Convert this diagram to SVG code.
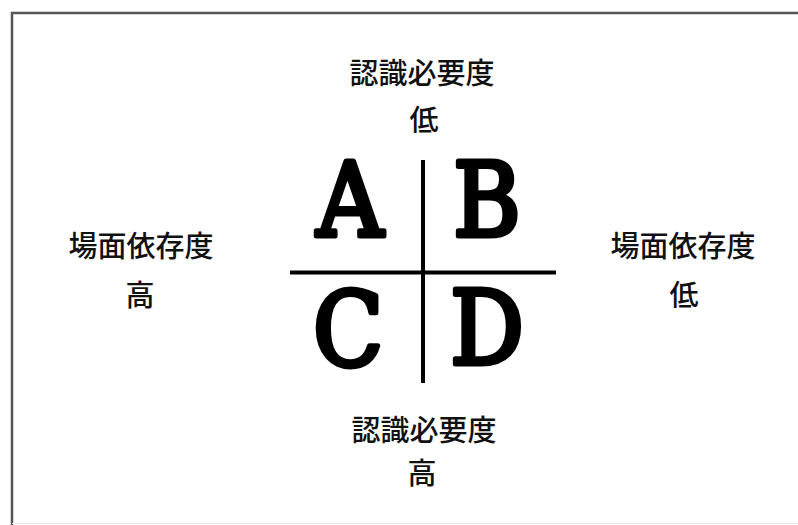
<svg xmlns="http://www.w3.org/2000/svg" width="798" height="525" viewBox="0 0 798 525">
<style>
.lbl{font-family:"Noto Sans CJK JP","Noto Sans CJK SC",sans-serif;font-size:29px;font-weight:500;fill:#111;text-anchor:middle}
.q{font-family:'DejaVu Serif',serif;font-stretch:condensed;font-size:102px;font-weight:400;fill:#000;stroke:#000;stroke-width:5;stroke-linejoin:round;text-anchor:middle}
.ax{stroke:#000;stroke-width:4;fill:none}
</style>
<rect x="0" y="0" width="798" height="525" fill="#fff"/>
<path d="M12 525 V13 H798" fill="none" stroke="#555" stroke-width="2.5"/>
<line x1="12" y1="523.5" x2="798" y2="523.5" stroke="#e6e6e6" stroke-width="1"/>
<g id="connectors">
<line class="ax" x1="423" y1="160" x2="423" y2="383"/>
<line class="ax" x1="290" y1="272.5" x2="556" y2="272.5"/>
</g>
<g id="qA"><text class="q" x="350" y="236">A</text></g>
<g id="qB"><text class="q" x="487" y="236">B</text></g>
<g id="qC"><text class="q" x="348" y="366">C</text></g>
<g id="qD"><text class="q" x="487" y="364">D</text></g>
<g id="top"><text class="lbl" x="422" y="84">認識必要度</text><text class="lbl" x="424" y="131">低</text></g>
<g id="left"><text class="lbl" x="141" y="257">場面依存度</text><text class="lbl" x="140" y="306">高</text></g>
<g id="right"><text class="lbl" x="683" y="257">場面依存度</text><text class="lbl" x="684" y="306">低</text></g>
<g id="bottom"><text class="lbl" x="424" y="441">認識必要度</text><text class="lbl" x="422" y="484">高</text></g>
</svg>
